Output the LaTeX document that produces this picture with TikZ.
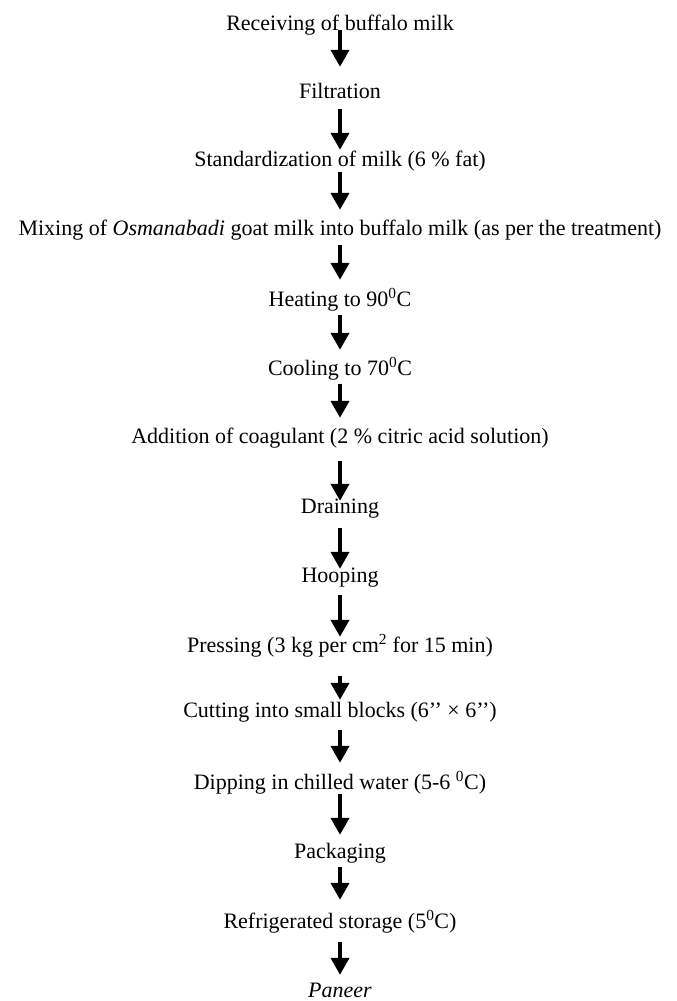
\documentclass[tikz,border=0pt]{standalone}
\usepackage{fontspec}
\setmainfont{Liberation Serif}
\usetikzlibrary{arrows.meta}

\begin{document}
\begin{tikzpicture}[
			x=1pt, y=1pt,
			every node/.style={font=\fontsize{22}{26}\selectfont, inner sep=0pt,
				text height=15pt, text depth=6pt, anchor=base},
			flow/.style={line width=4pt, -{Triangle[width=18pt,length=17pt]}}
			]
			\useasboundingbox (0,0) rectangle (677,-1001);
			
			% process steps
			\node (recv)   at (340,-30)  {Receiving of buffalo milk};
			\node (filt)   at (340,-98)  {Filtration};
			\node (std)    at (340,-166) {Standardization of milk (6 \% fat)};
			\node (mix)    at (340,-235) {Mixing of \textit{Osmanabadi} goat milk into buffalo milk (as per the treatment)};
			\node (heat)   at (340,-306) {Heating to 90\textsuperscript{0}C};
			\node (cool)   at (340,-375) {Cooling to 70\textsuperscript{0}C};
			\node (coag)   at (340,-443) {Addition of coagulant (2 \% citric acid solution)};
			\node (drain)  at (340,-513) {Draining};
			\node (hoop)   at (340,-582) {Hooping};
			\node (press)  at (340,-652) {Pressing (3 kg per cm\textsuperscript{2} for 15 min)};
			\node (cut)    at (340,-717) {Cutting into small blocks (6’’ × 6’’)};
			\node (dip)    at (340,-789) {Dipping in chilled water (5-6 \textsuperscript{0}C)};
			\node (pack)   at (340,-858) {Packaging};
			\node (store)  at (340,-928) {Refrigerated storage (5\textsuperscript{0}C)};
			\node (paneer) at (340,-997) {\textit{Paneer}};
			
			% arrows
			\draw[flow, shorten <=-6pt, shorten >=16pt] (recv) -- (filt);
			\draw[flow, shorten <=5pt,  shorten >=1pt]  (filt) -- (std);
			\draw[flow, shorten <=0pt,  shorten >=10pt] (std) -- (mix);
			\draw[flow, shorten <=4pt,  shorten >=11pt] (mix) -- (heat);
			\draw[flow, shorten <=3pt,  shorten >=10pt] (heat) -- (cool);
			\draw[flow, shorten <=3pt,  shorten >=10pt] (cool) -- (coag);
			\draw[flow, shorten <=12pt, shorten >=-3pt] (coag) -- (drain);
			\draw[flow, shorten <=9pt,  shorten >=-2pt] (drain) -- (hoop);
			\draw[flow, shorten <=7pt,  shorten >=0pt]  (hoop) -- (press);
			\draw[flow, shorten <=18pt, shorten >=2pt]  (press) -- (cut);
			\draw[flow, shorten <=7pt,  shorten >=11pt] (cut) -- (dip);
			\draw[flow, shorten <=-1pt, shorten >=8pt]  (dip) -- (pack);
			\draw[flow, shorten <=3pt,  shorten >=13pt] (pack) -- (store);
			\draw[flow, shorten <=8pt,  shorten >=7pt]  (store) -- (paneer);
		\end{tikzpicture}
\end{document}
